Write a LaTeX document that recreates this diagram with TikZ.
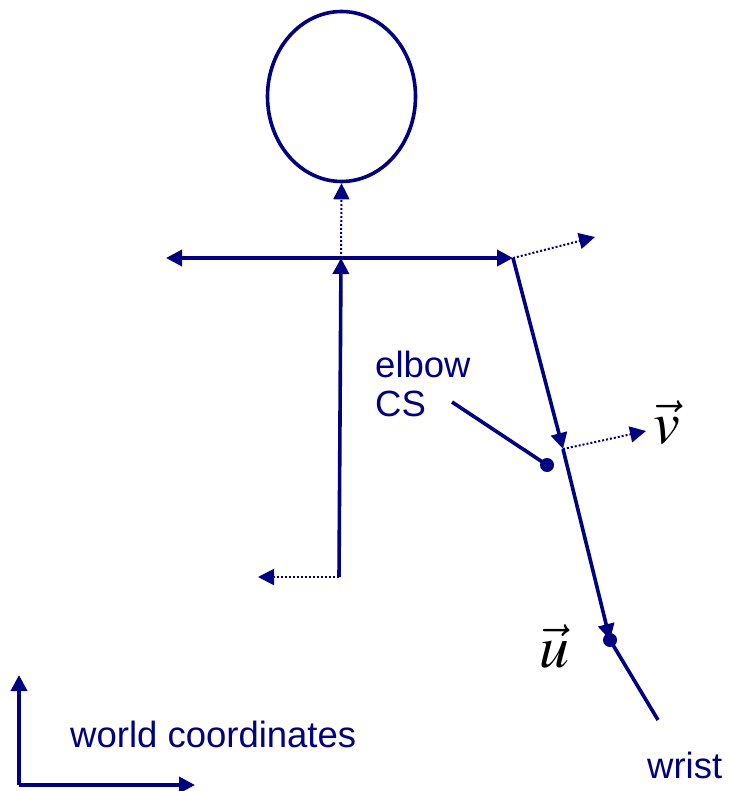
\documentclass[tikz,border=0pt]{standalone}
\usepackage{mathptmx}
\usepackage{fontspec}
\setmainfont{Liberation Sans}
\usetikzlibrary{arrows.meta,shapes.geometric}
\definecolor{navy}{RGB}{0,0,128}
\begin{document}
\begin{tikzpicture}[x=1pt,y=-1pt,
  bone/.style={draw=navy, line width=3.6pt},
  dotline/.style={draw=navy, line width=2pt, dash pattern=on 2pt off 2pt},
  tipA/.style={-{Triangle[length=16pt,width=16pt]}},
  tipB/.style={{Triangle[length=16pt,width=16pt]}-{Triangle[length=16pt,width=16pt]}},
  lbl/.style={text=navy, font=\fontsize{36.5}{39}\selectfont, inner sep=0pt, anchor=base west},
  vecl/.style={font=\fontsize{60}{60}\selectfont, inner sep=0pt, anchor=base},
  jdot/.style={circle, fill=navy, minimum size=14pt, inner sep=0pt}
]
\useasboundingbox (0,0) rectangle (729,791);

% head
\node[ellipse, draw=navy, line width=3.6pt, minimum width=148pt, minimum height=170pt, inner sep=0pt] (head) at (341.5,96.5) {};

% joints
\coordinate (neck) at (341,258);
\coordinate (lhand) at (166,258);
\coordinate (rshoulder) at (513,258);
\coordinate (hip) at (339,577);
\coordinate (hipx) at (258,577);
\coordinate (shx) at (595,237);
\coordinate (elbow) at (563,449);
\coordinate (elbowx) at (646,431);
\node[jdot] (wj) at (610,640) {};
\coordinate (wend) at (658,720);
\node[jdot] (ecs) at (547,465) {};
\coordinate (ecsline) at (452,402);

% skeleton
\draw[bone, tipA] (hip) -- (neck);
\draw[bone, tipB] (lhand) -- (rshoulder);
\draw[bone, tipA] (rshoulder) -- (elbow);
\draw[bone, tipA] (elbow) -- (wj.center);
\draw[bone] (wj.center) -- (wend);
\draw[bone] (ecsline) -- (ecs.center);

% local axes (dotted)
\draw[dotline, tipA] (neck) -- (head.south);
\draw[dotline, tipA] (hip) -- (hipx);
\draw[dotline, tipA] (rshoulder) -- (shx);
\draw[dotline, tipA] (elbow) -- (elbowx);

% labels
\node[lbl] (elbowlbl) at (375,377) {elbow};
\node[lbl] (cslbl) at (375,416) {CS};
\node[lbl] (wristlbl) at (647,778) {wrist};
\node[lbl] (worldlbl) at (70,747) {world coordinates};
\node[vecl] (vlbl) at (667,443) {$\vec{v}$};
\node[vecl] (ulbl) at (554,667) {$\vec{u}$};

% world axes
\coordinate (worigin) at (19,785);
\coordinate (wy) at (19,675);
\coordinate (wx) at (195,785);
\draw[bone, tipA] (worigin) -- (wy);
\draw[bone, tipA] (worigin) -- (wx);
\end{tikzpicture}
\end{document}
